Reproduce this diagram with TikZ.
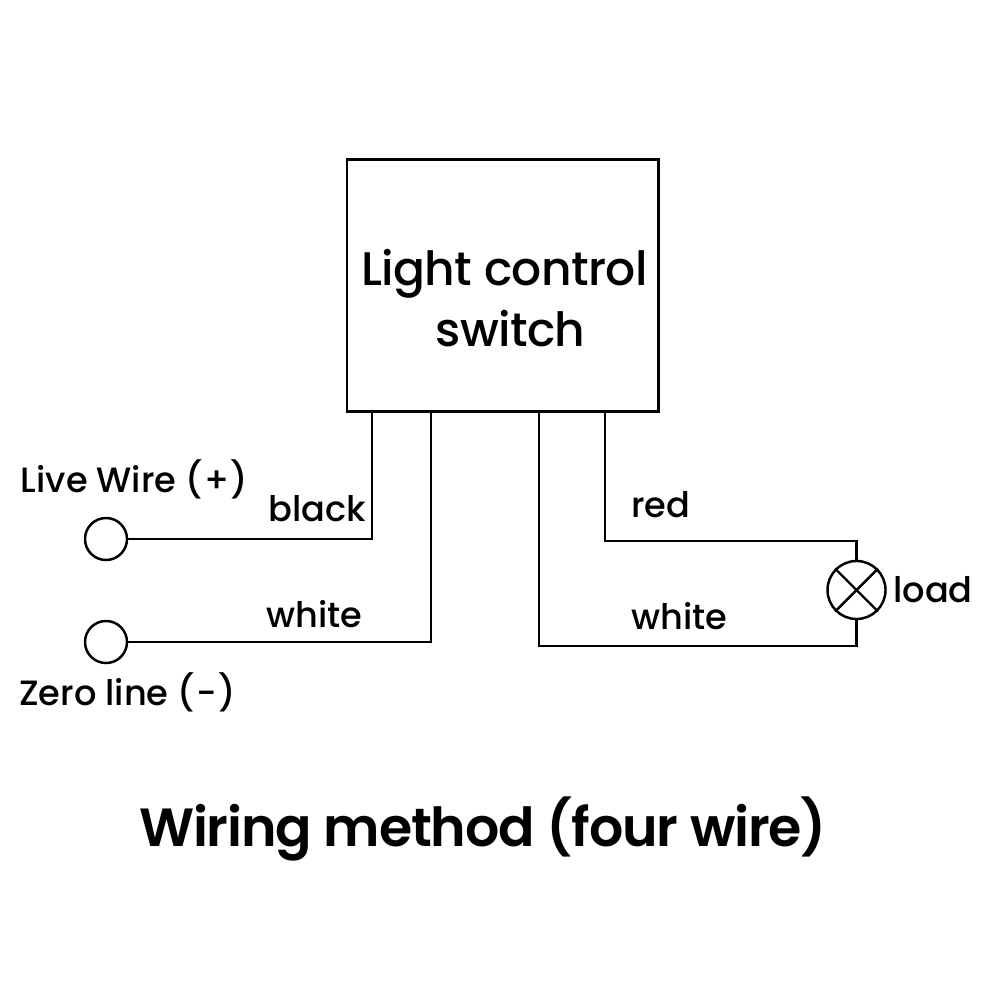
\documentclass[tikz,border=0pt]{standalone}
\usepackage{fontspec}
\setmainfont{Poppins Medium}
\newfontfamily\titlefont[LetterSpace=-2.1]{Poppins SemiBold}
\newfontfamily\grandfont[LetterSpace=-1.2]{Poppins Medium}
\tikzset{
		wire/.style={line width=0.7pt},
		boite/.style={draw, line width=0.8pt, minimum width=3.11cm, minimum height=2.52cm},
		borne/.style={draw, circle, line width=0.7pt, minimum size=0.42cm, inner sep=0pt},
		lampe/.style={draw, circle, line width=0.7pt, minimum size=0.58cm, inner sep=0pt},
		etiq/.style={inner sep=0pt, font=\fontsize{10}{12}\selectfont},
		grand/.style={inner sep=0pt, font=\fontsize{13.4}{16}\grandfont},
		titre/.style={inner sep=0pt, font=\fontsize{15.3}{19}\titlefont}
	}
\begin{document}
\begin{tikzpicture}[x=0.01cm, y=-0.01cm]
		\useasboundingbox (0,0) rectangle (1000,1000);
		% boite
		\node[boite](switch) at (502.5,285.5){};
		\node[grand](lightctl) at (504.5,274){Light control};
		\node[grand](switchtx) at (510.5,329){switch};
		% bornes
		\node[borne](livewire) at (106,539){};
		\node[borne](zeroline) at (106,642){};
		\node[lampe](load) at (856.5,590){};
		\draw[wire] (load.45) -- (load.225);
		\draw[wire] (load.135) -- (load.315);
		% points sur la boite
		\coordinate (sortblack) at (372,411);
		\coordinate (sortwhite) at (431,411);
		\coordinate (sortretur) at (539,411);
		\coordinate (sortred) at (605,411);
		\coordinate (coinred) at (856.5,541);
		\coordinate (coinretur) at (856.5,646);
		% fils
		\draw[wire] (livewire.east) -| (sortblack);
		\draw[wire] (zeroline.east) -| (sortwhite);
		\draw[wire] (sortred) |- (coinred) -- (load.north);
		\draw[wire] (sortretur) |- (coinretur) -- (load.south);
		% textes
		\node[etiq](livetx) at (134.5,479){Live Wire (\kern0.4pt+\kern0.4pt)};
		\node[etiq](zerotx) at (127.5,692){Zero line (\kern0.4pt-\kern0.4pt)};
		\node[etiq](blacktx) at (317.5,509){black};
		\node[etiq](whitetx) at (314.5,614){white};
		\node[etiq](redtx) at (661,504.5){red};
		\node[etiq](whitert) at (679.5,616){white};
		\node[etiq](loadtx) at (933,589.5){load};
		\node[titre](title) at (483,829){Wiring method (four wire)};
	\end{tikzpicture}
\end{document}
